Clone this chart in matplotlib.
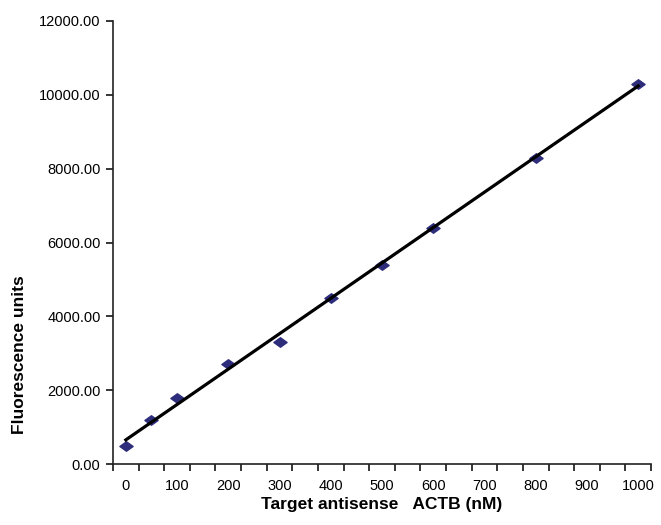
import numpy as np
import matplotlib
matplotlib.use("Agg")
import matplotlib.pyplot as plt
from matplotlib.path import Path
from matplotlib.ticker import FixedLocator, FuncFormatter

# Data
conc_nM = [0, 50, 100, 200, 300, 400, 500, 600, 800, 1000]
fluor_units = [500, 1200, 1800, 2700, 3300, 4500, 5400, 6400, 8300, 10300]
x_tick_labels = [0, 100, 200, 300, 400, 500, 600, 700, 800, 900, 1000]
y_ticks = [0, 2000, 4000, 6000, 8000, 10000, 12000]

plt.rcParams['font.family'] = ['Liberation Sans', 'DejaVu Sans']

fig = plt.figure(figsize=(6.61, 5.25), dpi=100)
ax = fig.add_axes([113/661, 1 - 464/525, (651 - 113)/661, (464 - 21)/525])

diamond = Path([(-1, 0), (0, 0.72), (1, 0), (0, -0.72), (-1, 0)],
               [Path.MOVETO, Path.LINETO, Path.LINETO, Path.LINETO, Path.CLOSEPOLY])

x = np.array(conc_nM, dtype=float)
y = np.array(fluor_units, dtype=float)
ax.plot(x, y, linestyle='none', marker=diamond, markersize=9.5,
        color='#2D2D7C', markeredgecolor='#2D2D7C', zorder=2, clip_on=False)

coef = np.polyfit(x, y, 1)
xf = np.linspace(x.min(), x.max(), 50)
ax.plot(xf, np.polyval(coef, xf), color='black', linewidth=2.3, zorder=3)

ax.set_xlim(-25, 1025)
ax.set_ylim(0, 12000)

ax.xaxis.set_major_locator(FixedLocator(x_tick_labels))
ax.xaxis.set_minor_locator(FixedLocator(np.arange(-25, 1026, 50)))
ax.tick_params(axis='x', which='major', length=0, pad=11, labelsize=10.5)
ax.tick_params(axis='x', which='minor', length=5, width=1.1, direction='out')

ax.yaxis.set_major_locator(FixedLocator(y_ticks))
ax.yaxis.set_major_formatter(FuncFormatter(lambda v, p: f"{v:.2f}"))
ax.tick_params(axis='y', which='major', length=5, width=1.1, direction='out', pad=4, labelsize=10.5)

for s in ['top', 'right']:
    ax.spines[s].set_visible(False)
for s in ['left', 'bottom']:
    ax.spines[s].set_linewidth(1.2)
    ax.spines[s].set_color('#222222')

ax.set_xlabel('Target antisense   ACTB (nM)', fontsize=12.5, fontweight='bold', labelpad=3)
fig.text(20/661, 1 - 355/525, 'Fluorescence units', rotation=90, fontsize=12.5,
         fontweight='bold', ha='center', va='center')

fig.savefig('out.png', dpi=100)
